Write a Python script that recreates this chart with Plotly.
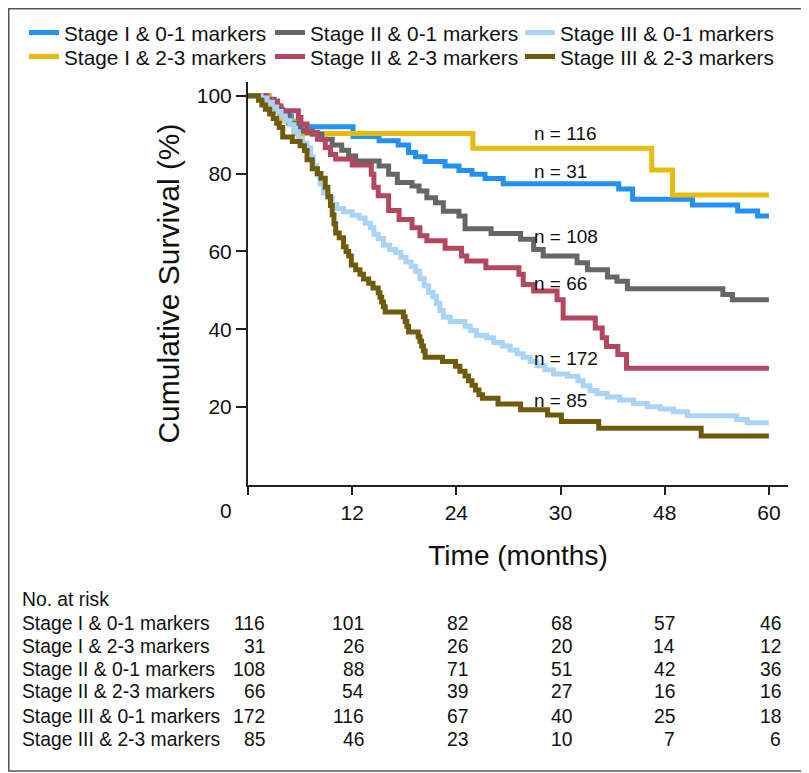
import plotly.graph_objects as go

# ---- data ----
groups = ["Stage I & 0-1 markers", "Stage I & 2-3 markers",
          "Stage II & 0-1 markers", "Stage II & 2-3 markers",
          "Stage III & 0-1 markers", "Stage III & 2-3 markers"]
colors = ["#2391f2", "#e8bb0f", "#666666", "#b3475f", "#a9d4f8", "#6e5c0c"]

t_s1_01 = [0, 1.5, 2.5, 3.2, 4.0, 5.0, 6.0, 12.1, 15.1, 17.3, 18.5, 19.3, 20.4, 22.7,
           24.3, 25.8, 27.3, 29.4, 42.7, 44.3, 51.2, 56.4, 58.7, 60]
s_s1_01 = [100, 99.1, 97.4, 96.5, 94.8, 93.1, 92.0, 89.5, 88.4, 87.3, 85.4, 84.3, 83.1, 81.9,
           80.8, 79.8, 78.7, 77.4, 76.0, 73.4, 71.9, 70.4, 69.1, 69.1]

t_s1_23 = [0, 2.5, 3.6, 5.3, 25.9, 46.5, 48.9, 60]
s_s1_23 = [100, 96.8, 93.5, 90.3, 86.5, 80.9, 74.5, 74.5]

t_s2_01 = [0, 2.0, 3.0, 3.8, 4.7, 6.05, 7.4, 8.5, 9.7, 10.8, 11.6, 12.4, 15.1, 16.2, 17.2,
           18.9, 19.7, 20.6, 21.6, 22.5, 24.3, 25.0, 28.0, 31.4, 32.9, 34.0, 37.9, 39.1,
           41.4, 42.5, 43.7, 54.7, 55.8, 60]
s_s2_01 = [100, 99.1, 97.2, 95.4, 92.9, 90.9, 90.1, 88.8, 87.3, 86.0, 84.5, 83.2, 81.9, 79.8,
           77.7, 76.8, 75.5, 73.8, 72.5, 70.3, 69.1, 65.8, 64.6, 63.1, 60.5, 58.8, 57.1, 55.3,
           53.4, 52.3, 50.4, 48.9, 47.6, 47.6]

t_s2_23 = [0, 2.2, 3.4, 3.75, 5.8, 6.1, 6.8, 8.0, 8.9, 9.5, 10.1, 12.0, 14.2, 14.5, 15.0,
           16.2, 17.4, 18.9, 19.8, 20.6, 22.7, 24.6, 25.2, 27.4, 31.2, 31.7, 32.9, 35.6,
           36.3, 40.0, 40.8, 41.3, 42.6, 43.6, 60]
s_s2_23 = [100, 98.6, 97.4, 96.1, 94.4, 92.7, 90.5, 88.8, 86.7, 84.9, 83.7, 82.2, 79.8, 76.5,
           74.3, 70.5, 68.2, 66.1, 64.0, 62.7, 60.8, 58.8, 57.5, 55.8, 54.1, 51.5, 49.8, 47.6,
           42.9, 40.3, 37.8, 35.6, 33.5, 30.0, 30.0]

t_s3_01 = [0, 1.5, 2.2, 2.8, 3.3, 3.8, 4.3, 4.8, 5.3, 5.8, 6.3, 6.8, 7.2, 7.5, 7.9, 8.3, 8.7,
           9.2, 9.7, 10.2, 11.0, 12.0, 12.8, 13.5, 14.1, 14.5, 15.0, 15.6, 16.3, 17.0, 17.6,
           18.2, 18.8, 19.3, 19.8, 20.3, 20.8, 21.3, 21.7, 22.1, 22.5, 23.3, 25.0, 25.6, 26.3,
           27.5, 28.3, 29.3, 30.2, 31.0, 31.7, 32.5, 33.3, 34.2, 35.2, 36.8, 38.0, 38.6, 39.4,
           40.2, 41.4, 42.8, 44.4, 46.0, 47.5, 49.0, 50.6, 56.3, 57.5, 60]
s_s3_01 = [100, 99.4, 98.3, 97.1, 95.9, 94.8, 93.6, 92.5, 90.7, 89.0, 87.8, 86.6, 84.3, 82.0,
           79.7, 77.3, 75.0, 73.8, 72.1, 71.0, 70.2, 69.3, 68.6, 67.2, 66.1, 64.4, 63.3, 61.6,
           60.5, 59.7, 58.5, 57.3, 56.1, 54.9, 53.0, 51.2, 49.5, 48.4, 46.6, 44.8, 43.1, 42.0,
           40.8, 39.7, 38.4, 37.8, 36.6, 35.7, 34.7, 33.7, 32.8, 31.7, 30.6, 29.6, 28.5, 27.9,
           26.8, 25.5, 24.3, 23.5, 22.6, 21.8, 20.9, 20.1, 19.5, 18.8, 17.8, 16.8, 16.0, 16.0]

t_s3_23 = [0, 1.2, 1.6, 2.0, 2.5, 2.9, 3.3, 3.6, 4.0, 5.1, 6.0, 6.5, 6.8, 7.4, 8.0, 8.4, 8.9,
           9.2, 9.5, 9.7, 9.9, 10.1, 10.5, 11.0, 11.3, 11.6, 11.9, 12.4, 12.9, 13.3, 13.9, 14.4,
           15.0, 15.2, 15.4, 15.6, 15.8, 17.9, 18.1, 18.3, 18.5, 19.6, 19.8, 20.0, 20.2, 20.4,
           22.4, 23.9, 24.4, 25.0, 25.4, 25.8, 26.2, 26.6, 27.0, 28.8, 31.4, 34.5, 36.1, 40.4,
           52.2, 60]
s_s3_23 = [100, 98.8, 97.6, 96.5, 95.3, 94.1, 92.9, 91.8, 89.4, 88.2, 87.1, 85.9, 83.5, 81.2,
           80.0, 78.8, 76.5, 74.1, 71.8, 69.4, 67.1, 64.7, 63.5, 61.2, 60.0, 58.8, 56.5, 55.3,
           54.1, 52.9, 51.8, 50.6, 49.4, 48.2, 47.0, 45.8, 44.4, 43.2, 42.0, 40.8, 39.3, 38.1,
           36.9, 35.7, 34.5, 32.8, 31.7, 30.5, 29.2, 28.0, 26.8, 25.6, 24.4, 23.2, 22.3, 20.8,
           19.3, 18.0, 16.3, 14.6, 12.6, 12.6]

times = [t_s1_01, t_s1_23, t_s2_01, t_s2_23, t_s3_01, t_s3_23]
survs = [s_s1_01, s_s1_23, s_s2_01, s_s2_23, s_s3_01, s_s3_23]

# n labels as printed on the chart
n_labels = ["n = 116", "n = 31", "n = 108", "n = 66", "n = 172", "n = 85"]
n_label_y = [90.4, 80.6, 63.9, 51.8, 32.6, 21.8]
n_label_x = 32.7

# number at risk table
risk_times = [0, 12, 24, 36, 48, 60]
at_risk = [[116, 101, 82, 68, 57, 46],
           [31, 26, 26, 20, 14, 12],
           [108, 88, 71, 51, 42, 36],
           [66, 54, 39, 27, 16, 16],
           [172, 116, 67, 40, 25, 18],
           [85, 46, 23, 10, 7, 6]]

x_tickvals = [0, 12, 24, 36, 48, 60]
x_ticktext = ["", "12", "24", "30", "48", "60"]
y_tickvals = [20, 40, 60, 80, 100]

# ---- layout geometry (screen pixels; page body adds an 8px offset) ----
OFF = 8
W, H = 809, 773
L, R, T, B = 248 - OFF, 21 + OFF, 82 - OFF, 288 + OFF
PW, PH = W - L - R, H - T - B


def px_x(px):
    return (px - OFF - L) / PW


def px_y(py):
    return (H - B - (py - OFF)) / PH


font = "Liberation Sans, Arial, sans-serif"

# legend grid: stage -> column, marker count -> row
legend_cols_px = [24, 270, 520]
legend_rows_px = [33, 57]

fig = go.Figure()
legends = {}
for i, (name, c, t, s) in enumerate(zip(groups, colors, times, survs)):
    key = "legend" if i == 0 else "legend%d" % (i + 1)
    fig.add_trace(go.Scatter(x=t, y=s, mode="lines", name=name, legend=key,
                             line=dict(color=c, width=5, shape="hv")))
    legends[key] = dict(orientation="h", xanchor="left", yanchor="middle",
                        x=px_x(legend_cols_px[i // 2]), y=px_y(legend_rows_px[i % 2]),
                        font=dict(size=20.8, family=font), bgcolor="rgba(0,0,0,0)",
                        borderwidth=0)

ann = []
for lab, yv in zip(n_labels, n_label_y):
    ann.append(dict(x=n_label_x, y=yv, xref="x", yref="y", text=lab, showarrow=False,
                    xanchor="left", yanchor="middle", font=dict(size=19, color="#111", family=font)))

# corner "0" label
ann.append(dict(x=px_x(226), y=px_y(510), xref="paper", yref="paper", text="0",
                showarrow=False, xanchor="center", yanchor="middle",
                font=dict(size=21, color="#111", family=font)))

# at-risk table
row_y = [623, 646, 669, 692, 716, 739]
col_shift = [19, 14, 14, 13, 12, 14]
tfont = dict(size=19.3, color="#111", family=font)
ann.append(dict(x=px_x(20), y=px_y(599), xref="paper", yref="paper", text="No. at risk",
                showarrow=False, xanchor="left", yanchor="middle", font=tfont))
for name, counts, py in zip(groups, at_risk, row_y):
    ann.append(dict(x=px_x(20), y=px_y(py), xref="paper", yref="paper", text=name,
                    showarrow=False, xanchor="left", yanchor="middle", font=tfont))
    for tv, cnt, sh in zip(risk_times, counts, col_shift):
        ann.append(dict(x=tv, y=px_y(py), xref="x", yref="paper", text=str(cnt),
                        showarrow=False, xanchor="right", yanchor="middle", xshift=sh,
                        font=tfont))

fig.update_layout(
    width=W, height=H,
    margin=dict(l=L, r=R, t=T, b=B, autoexpand=False),
    paper_bgcolor="white", plot_bgcolor="white",
    font=dict(family=font, color="#111"),
    showlegend=True,
    annotations=ann,
    shapes=[dict(type="rect", xref="paper", yref="paper",
                 x0=px_x(OFF + 0.75), x1=px_x(806), y0=px_y(771), y1=px_y(OFF + 0.75),
                 line=dict(color="#555", width=1.5))],
    **legends,
)
fig.update_xaxes(range=[0, 62.2], tickvals=x_tickvals, ticktext=x_ticktext,
                 ticks="outside", ticklen=8, tickwidth=1.5, tickcolor="#222",
                 showline=True, linewidth=2, linecolor="#222", showgrid=False, zeroline=False,
                 tickfont=dict(size=21, family=font),
                 title=dict(text="Time (months)", font=dict(size=28, family=font), standoff=22))
fig.update_yaxes(range=[0, 103.5], tickvals=y_tickvals,
                 ticks="outside", ticklen=10, tickwidth=1.5, tickcolor="#222",
                 showline=True, linewidth=2, linecolor="#222", showgrid=False, zeroline=False,
                 tickfont=dict(size=21, family=font),
                 title=dict(text="Cumulative Survival (%)", font=dict(size=30, family=font), standoff=8))

fig.write_html("out.html")
